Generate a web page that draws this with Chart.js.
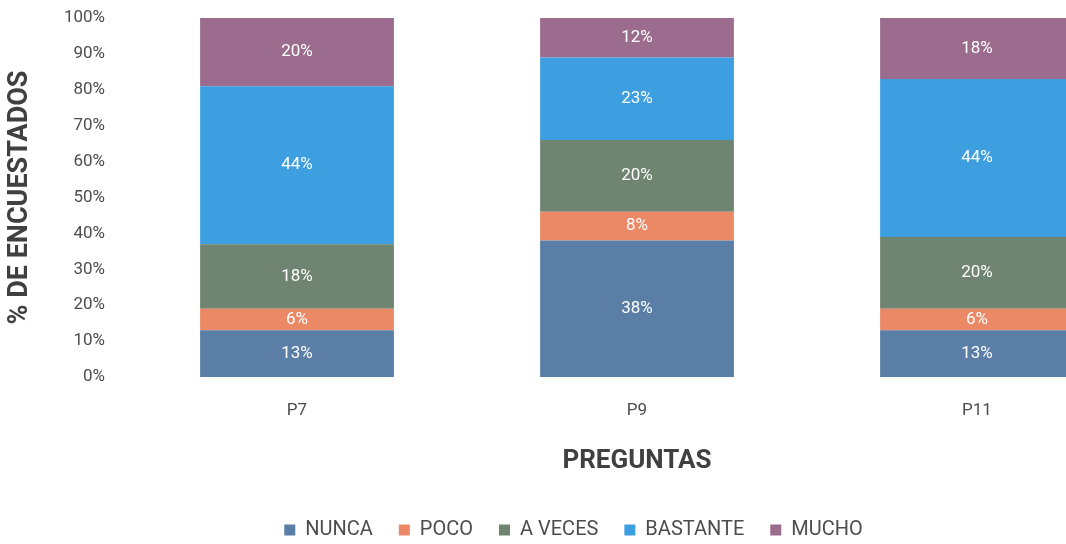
<!DOCTYPE html>
<html>
<head>
<meta charset="utf-8">
<script src="https://cdn.jsdelivr.net/npm/chart.js@4/dist/chart.umd.min.js"></script>
<style>
  html, body { margin: 0; padding: 0; background: #fff; overflow: hidden; }
  #wrap { width: 1150px; height: 544px; }
</style>
</head>
<body>
<div id="wrap"><canvas id="grafico"></canvas></div>
<script>
const preguntas = ['P7', 'P9', 'P11'];
const nunca = [13, 38, 13];
const poco = [6, 8, 6];
const aVeces = [18, 20, 20];
const bastante = [44, 23, 44];
const mucho = [20, 12, 18];
const ticksY = [0, 10, 20, 30, 40, 50, 60, 70, 80, 90, 100];

const fuente = "Roboto, 'DejaVu Sans', sans-serif";

// etiquetas blancas dentro de cada segmento
const etiquetas = {
    id: 'etiquetas',
    afterDatasetsDraw(chart) {
        const ctx = chart.ctx;
        ctx.save();
        ctx.fillStyle = '#ffffff';
        ctx.font = '17px ' + fuente;
        ctx.textAlign = 'center';
        ctx.textBaseline = 'middle';
        chart.data.datasets.forEach((ds, i) => {
            const meta = chart.getDatasetMeta(i);
            meta.data.forEach((bar, j) => {
                const y = Math.max(bar.y, chart.chartArea.top);
                ctx.fillText(ds.data[j] + '%', bar.x, (y + bar.base) / 2);
            });
        });
        ctx.restore();
    }
};

const dataEnc = {
    labels: preguntas,
    datasets: [
        { label: 'NUNCA', data: nunca, backgroundColor: '#5a7ea6' },
        { label: 'POCO', data: poco, backgroundColor: '#eb8966' },
        { label: 'A VECES', data: aVeces, backgroundColor: '#6f8571' },
        { label: 'BASTANTE', data: bastante, backgroundColor: '#3d9ee0' },
        { label: 'MUCHO', data: mucho, backgroundColor: '#9b6c8e' }
    ]
};

const configEnc = {
    type: 'bar',
    data: dataEnc,
    plugins: [etiquetas],
    options: {
        responsive: true,
        maintainAspectRatio: false,
        animation: false,
        barPercentage: 0.57,
        categoryPercentage: 1,
        layout: { padding: { top: 18, right: 3, left: 0, bottom: -6 } },
        scales: {
            x: {
                stacked: true,
                grid: { display: false },
                border: { display: false },
                ticks: { color: '#4d4d4d', font: { family: fuente, size: 17 }, padding: 16 },
                title: {
                    display: true, text: 'PREGUNTAS', color: '#404040',
                    font: { family: fuente, size: 26, weight: 'bold' }, padding: { top: 0, bottom: 17 }
                },
                afterFit(scale) { scale.height = 117; }
            },
            y: {
                stacked: true,
                min: 0,
                max: 100,
                grid: { display: false },
                border: { display: false },
                afterBuildTicks(scale) { scale.ticks = ticksY.map(v => ({ value: v })); },
                ticks: {
                    color: '#4d4d4d', font: { family: fuente, size: 17 }, padding: 14,
                    callback: v => v + '%'
                },
                title: {
                    display: true, text: '% DE ENCUESTADOS', color: '#404040',
                    font: { family: fuente, size: 27, weight: 'bold' }
                },
                afterFit(scale) {
                    scale.width = 127;
                    scale.paddingTop = 0;
                    scale.paddingBottom = 0;
                }
            }
        },
        plugins: {
            tooltip: { enabled: false },
            legend: {
                position: 'bottom',
                labels: {
                    usePointStyle: true,
                    pointStyle: 'rect',
                    boxWidth: 11,
                    boxHeight: 11,
                    padding: 26,
                    color: '#4d4d4d',
                    font: { family: fuente, size: 20 }
                }
            }
        }
    }
};

const miGrafico = new Chart(document.getElementById('grafico'), configEnc);
</script>
</body>
</html>
